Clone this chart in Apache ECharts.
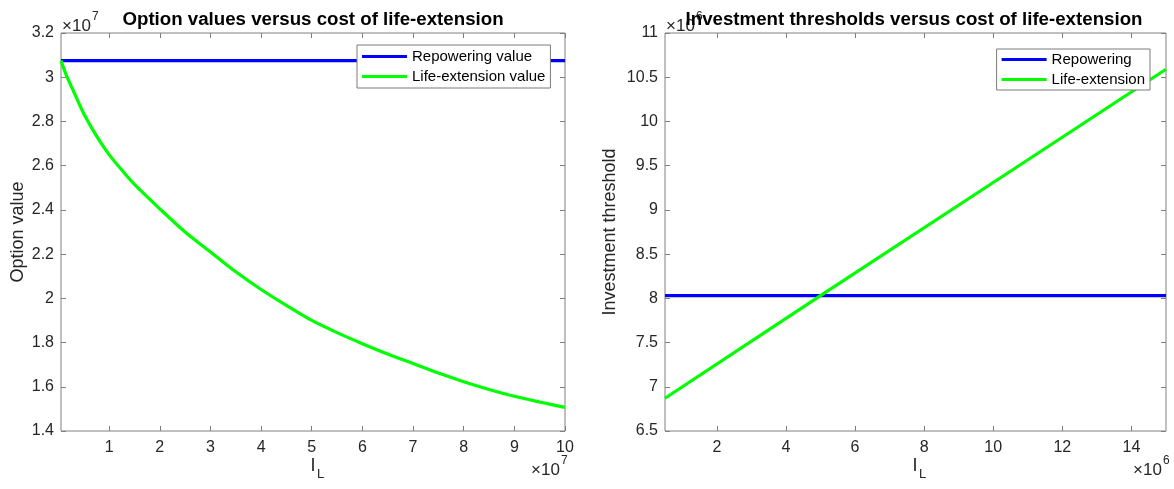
<!DOCTYPE html>
<html>
<head>
<meta charset="utf-8">
<script src="https://cdn.jsdelivr.net/npm/echarts@6/dist/echarts.min.js"></script>
<style>
html,body{margin:0;padding:0;background:#fff;}
#chart{width:1174px;height:489px;}
</style>
</head>
<body>
<div id="chart"></div>
<script>
// ---- Data (left panel: units of 1e7, right panel: units of 1e6) ----
var leftTitle = 'Option values versus cost of life-extension';
var rightTitle = 'Investment thresholds versus cost of life-extension';

// Left: cost of life-extension I_L (x 1e7)
var costL = [0.05, 0.15, 0.3, 0.5, 0.75, 1, 1.25, 1.5, 2, 2.5, 3, 3.5, 4, 4.5, 5, 5.5, 6, 6.5, 7, 7.5, 8, 8.5, 9, 9.5, 10];
var lifeExtValue = [3.075, 3.012, 2.935, 2.835, 2.735, 2.65, 2.58, 2.515, 2.405, 2.30, 2.21, 2.12, 2.04, 1.968, 1.90, 1.845, 1.795, 1.748, 1.705, 1.662, 1.623, 1.588, 1.557, 1.531, 1.507];
var repowerCostL = [0.05, 10];
var repowerValue = [3.075, 3.075];

// Right: cost of life-extension I_L (x 1e6)
var costR = [0.5, 5, 10, 15];
var lifeExtThreshold = [6.87, 8.03, 9.31, 10.59];
var repowerCostR = [0.5, 15];
var repowerThreshold = [8.03, 8.03];

// Tick labels
var leftXTicks = [1, 2, 3, 4, 5, 6, 7, 8, 9, 10];
var leftYTicks = [1.4, 1.6, 1.8, 2, 2.2, 2.4, 2.6, 2.8, 3, 3.2];
var rightXTicks = [2, 4, 6, 8, 10, 12, 14];
var rightYTicks = [6.5, 7, 7.5, 8, 8.5, 9, 9.5, 10, 10.5, 11];

function zip(a, b) { return a.map(function (v, i) { return [v, b[i]]; }); }

var FONT = 'Liberation Sans, Arial, Helvetica, sans-serif';
var AX = '#808080';
var TXT = '#262626';

function xAx(grid, min, max, ticks, bottom) {
  return {
    type: 'value', gridIndex: grid, min: min, max: max,
    position: bottom ? 'bottom' : 'top',
    axisLine: { show: false },
    axisTick: { show: true, inside: true, length: 5, customValues: ticks, lineStyle: { color: AX } },
    axisLabel: { show: bottom, customValues: ticks, color: TXT, fontSize: 16, fontFamily: FONT, margin: 9,
      formatter: function (v) { return String(+v.toFixed(2)); } },
    splitLine: { show: false }
  };
}
function yAx(grid, min, max, ticks, left) {
  return {
    type: 'value', gridIndex: grid, min: min, max: max,
    position: left ? 'left' : 'right',
    axisLine: { show: false },
    axisTick: { show: true, inside: true, length: 5, customValues: ticks, lineStyle: { color: AX } },
    axisLabel: { show: left, customValues: ticks, color: TXT, fontSize: 16, fontFamily: FONT, margin: 7,
      formatter: function (v) { return String(+v.toFixed(2)); } },
    splitLine: { show: false }
  };
}

var xAxes = [
  xAx(0, 0.05, 10, leftXTicks, true),
  xAx(0, 0.05, 10, leftXTicks, false),
  xAx(1, 0.5, 15, rightXTicks, true),
  xAx(1, 0.5, 15, rightXTicks, false)
];
var yAxes = [
  yAx(0, 1.4, 3.2, leftYTicks, true),
  yAx(0, 1.4, 3.2, leftYTicks, false),
  yAx(1, 6.5, 11, rightYTicks, true),
  yAx(1, 6.5, 11, rightYTicks, false)
];
yAxes[0].name = 'Option value';
yAxes[2].name = 'Investment threshold';
[0, 2].forEach(function (i) {
  yAxes[i].nameLocation = 'middle';
  yAxes[i].nameRotate = 90;
  yAxes[i].nameTextStyle = { fontSize: 18, color: TXT, fontFamily: FONT };
});
yAxes[0].nameGap = 34;
yAxes[2].nameGap = 46;

function txt(x, y, s, size, align, bold) {
  return { type: 'text', x: x, y: y, z: 1,
    style: { text: s, fontSize: size, fontFamily: FONT, fill: bold ? '#000' : TXT,
      fontWeight: bold ? 'bold' : 'normal', align: align || 'left', verticalAlign: 'middle' } };
}

var lineW = 3.2;
var legendText = { fontSize: 15, color: '#000', fontFamily: FONT, lineHeight: 17 };
var option = {
  backgroundColor: '#fff',
  animation: false,
  grid: [
    { left: 61, top: 33, width: 504, height: 398, show: true, borderColor: AX, borderWidth: 1, backgroundColor: '#fff' },
    { left: 665, top: 33, width: 501, height: 398, show: true, borderColor: AX, borderWidth: 1, backgroundColor: '#fff' }
  ],
  title: [
    { text: leftTitle, left: 308, top: 5, textAlign: 'center', z: 10,
      textStyle: { fontSize: 18.7, fontWeight: 'bold', color: '#000', fontFamily: FONT } },
    { text: rightTitle, left: 909, top: 5, textAlign: 'center', z: 10,
      textStyle: { fontSize: 18.7, fontWeight: 'bold', color: '#000', fontFamily: FONT } }
  ],
  legend: [
    { data: ['Repowering value', 'Life-extension value'], left: 357, top: 45, orient: 'vertical',
      icon: 'rect', itemWidth: 45, itemHeight: 3, itemGap: 3, padding: [3, 5, 3, 5],
      backgroundColor: '#fff', borderColor: '#7a7a7a', borderWidth: 1, borderRadius: 0,
      textStyle: legendText },
    { data: ['Repowering', 'Life-extension'], right: 24, top: 49, orient: 'vertical',
      icon: 'rect', itemWidth: 45, itemHeight: 3, itemGap: 3, padding: [2, 5, 2, 5],
      backgroundColor: '#fff', borderColor: '#7a7a7a', borderWidth: 1, borderRadius: 0,
      textStyle: legendText }
  ],
  xAxis: xAxes,
  yAxis: yAxes,
  series: [
    { name: 'Repowering value', type: 'line', xAxisIndex: 0, yAxisIndex: 0, data: zip(repowerCostL, repowerValue),
      showSymbol: false, symbol: 'none', lineStyle: { color: '#0000ff', width: lineW }, itemStyle: { color: '#0000ff' } },
    { name: 'Life-extension value', type: 'line', xAxisIndex: 0, yAxisIndex: 0, data: zip(costL, lifeExtValue),
      showSymbol: false, symbol: 'none', smooth: 0.3, lineStyle: { color: '#00ff00', width: lineW }, itemStyle: { color: '#00ff00' } },
    { name: 'Repowering', type: 'line', xAxisIndex: 2, yAxisIndex: 2, data: zip(repowerCostR, repowerThreshold),
      showSymbol: false, symbol: 'none', lineStyle: { color: '#0000ff', width: lineW }, itemStyle: { color: '#0000ff' } },
    { name: 'Life-extension', type: 'line', xAxisIndex: 2, yAxisIndex: 2, data: zip(costR, lifeExtThreshold),
      showSymbol: false, symbol: 'none', lineStyle: { color: '#00ff00', width: lineW }, itemStyle: { color: '#00ff00' } }
  ],
  graphic: [
    // top-left exponent labels
    txt(62, 26, '×10', 17), txt(92, 17, '7', 12),
    txt(666, 26, '×10', 17), txt(696, 17, '6', 12),
    // bottom-right exponent labels
    txt(531, 470, '×10', 17), txt(561, 461, '7', 12),
    txt(1133, 470, '×10', 17), txt(1163, 461, '6', 12),
    // x-axis names I_L
    txt(313, 466, 'I', 18, 'center'), txt(317, 474, 'L', 13),
    txt(915, 466, 'I', 18, 'center'), txt(919, 474, 'L', 13)
  ]
};

var chart = echarts.init(document.getElementById('chart'), null, { renderer: 'canvas' });
chart.setOption(option);
</script>
</body>
</html>
